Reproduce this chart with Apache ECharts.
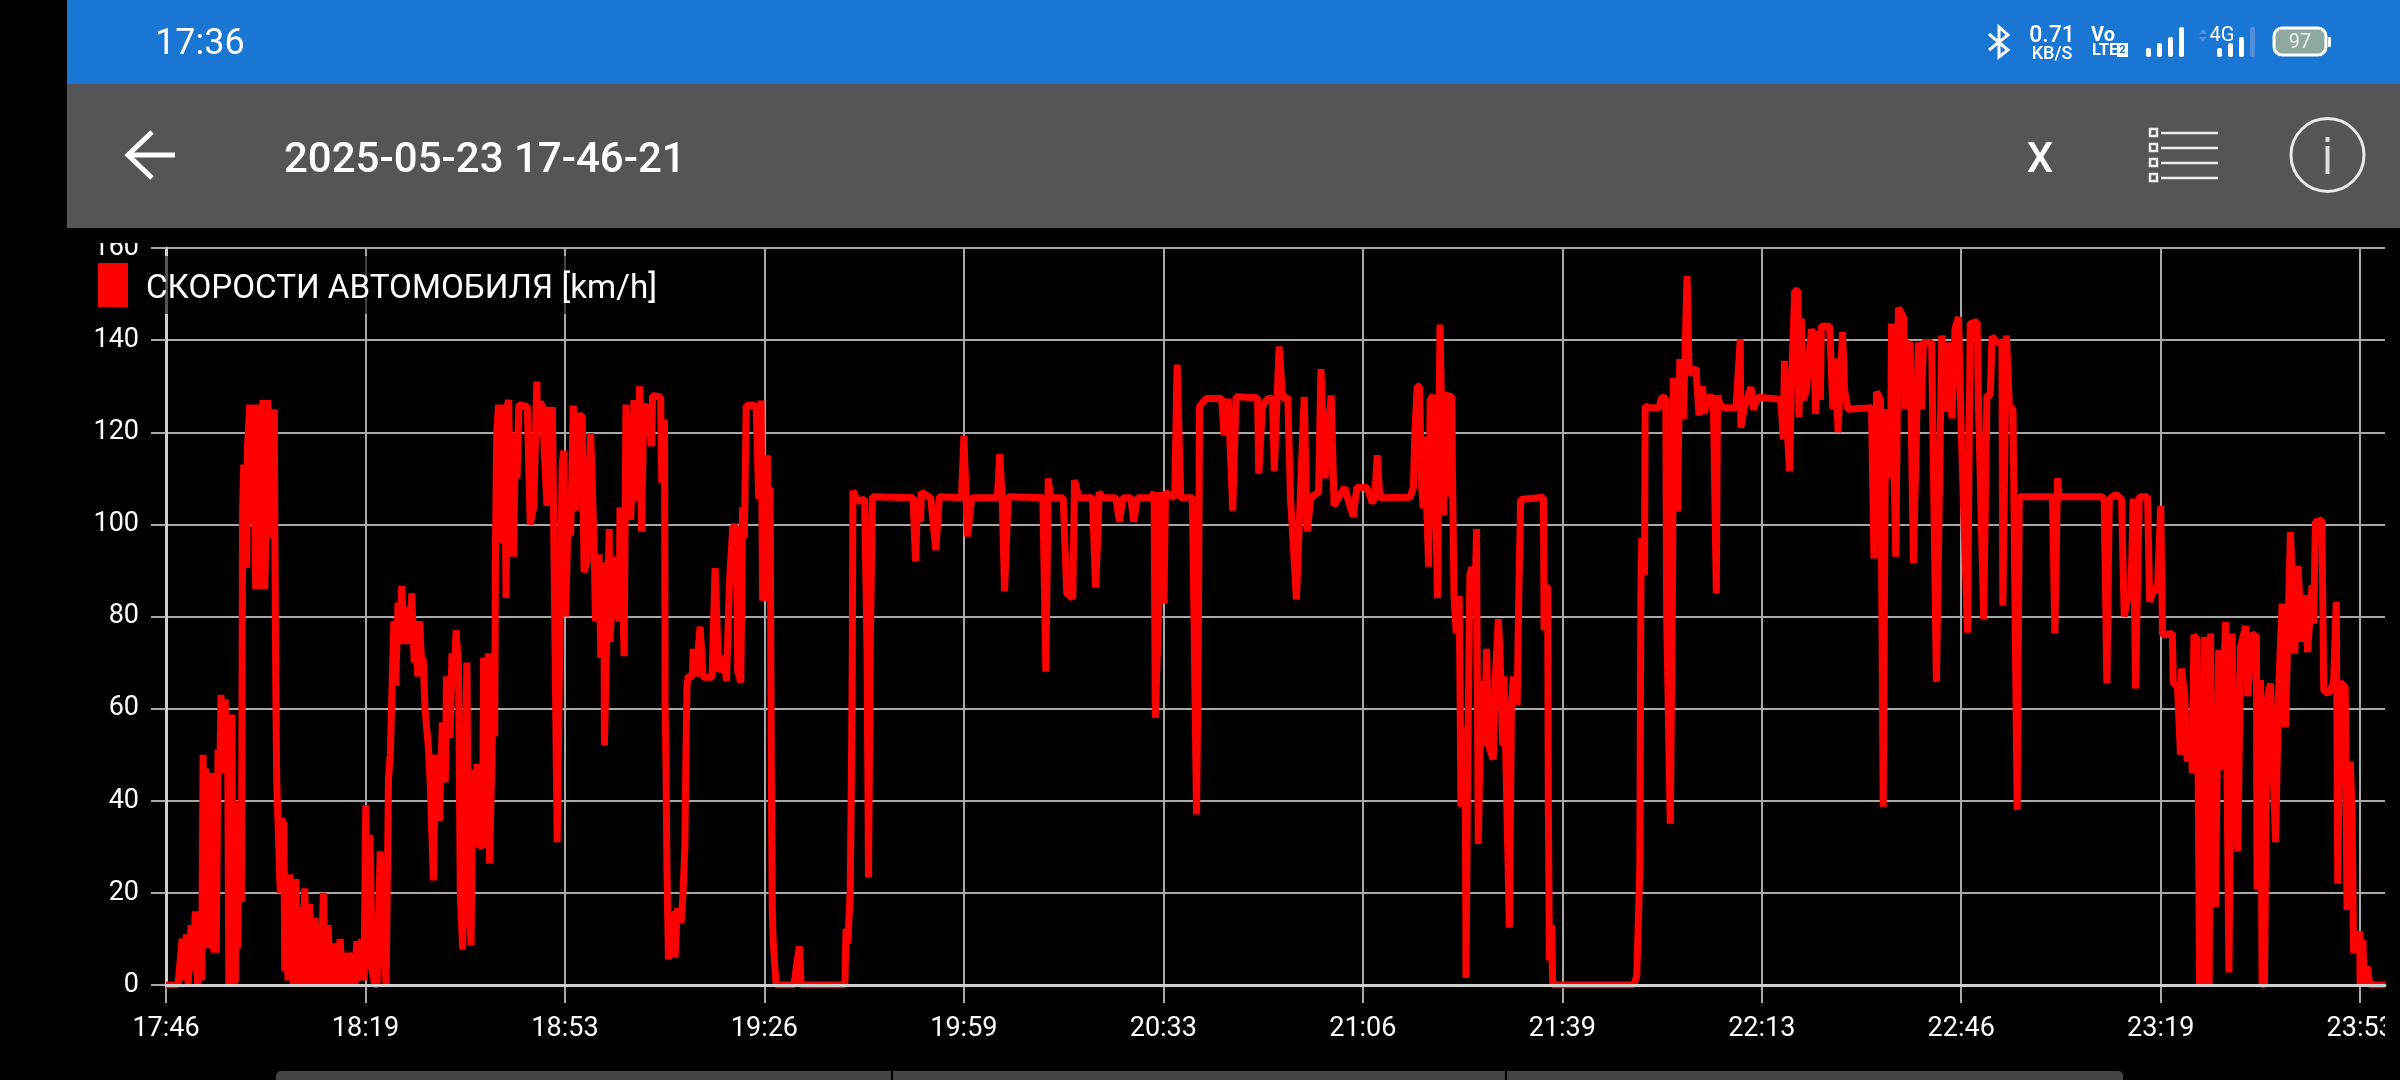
<!DOCTYPE html>
<html><head><meta charset="utf-8">
<style>html,body{margin:0;padding:0;background:#000}#c{width:2400px;height:1080px}</style>
<script src="https://cdn.jsdelivr.net/npm/echarts@6/dist/echarts.min.js"></script>
</head><body><div id="c"></div>
<script>
const seriesName = 'СКОРОСТИ АВТОМОБИЛЯ [km/h]';
const tickLabels = ['17:46','18:19','18:53','19:26','19:59','20:33','21:06','21:39','22:13','22:46','23:19','23:53'];
const tickStep = 33.35;
const axisEnd = 371;
const speedTicksMax = 160;
// [minutes since start, km/h]
const leg1 = [[0,0],[2,0],[2.7,10],[3,1],[3.4,11],[3.7,0],[4.2,13],[4.5,3],[4.9,16],[5.3,0],[5.7,16],[5.95,1],[6.2,50],[6.4,8],[6.6,47],[6.8,8],[7,45],[7.2,8],[7.4,46],[7.6,8],[7.8,46],[8,7],[8.2,46],[8.4,7],[8.7,51],[9,47],[9.2,63],[9.5,46],[9.9,62],[10.1,46],[10.3,53],[10.5,0],[11,58.7],[11.3,0],[11.6,1],[11.7,40],[12,8],[12.3,40],[12.6,18],[12.75,80],[12.8,103],[13,113],[13.5,90.5],[13.6,116],[14,126],[14.2,100],[14.6,126],[15,86],[15.4,126],[15.8,86],[16.2,127],[16.5,86],[16.7,97],[17,127],[17.3,97],[17.6,125],[17.9,97],[18.1,125],[18.2,97],[18.35,65],[18.5,45],[18.9,28],[19.1,20],[19.3,36],[19.7,35],[19.85,3],[20.1,24],[20.4,1],[20.7,24],[21,24],[21.25,0],[21.7,23],[22.1,0],[22.6,17],[22.9,0],[23.2,21],[23.6,0],[24,17.6],[24.4,0],[24.9,14.6],[25.2,0],[25.6,13],[25.9,0],[26.3,20],[26.7,0],[27.1,13],[27.5,0],[28,9],[28.5,0],[29.1,10],[29.6,0],[30.2,7],[30.7,0],[31.3,7],[31.6,0],[31.9,9.5],[32.3,1],[32.7,10],[33.1,1],[33.4,39],[33.8,3.4],[34.1,32.6],[34.5,3],[34.9,0],[35.3,0],[35.8,29],[36.3,12],[36.8,0],[37.1,0],[37.2,45],[37.5,50],[37.8,65],[38.1,79],[38.4,65],[38.8,83],[39.1,74],[39.4,86.6],[39.9,74],[40.2,82],[40.6,74],[41.1,85],[41.5,70],[41.7,79],[42.1,67],[42.4,79],[42.8,68],[43,71],[43.3,60],[43.9,51],[44.2,43],[44.7,22.7],[45.1,50],[45.7,35.6],[46.2,57],[46.7,44],[46.9,67],[47.5,53.6],[47.8,72],[48.1,65],[48.5,77],[48.9,69],[49.2,20],[49.6,7.7],[50.3,70],[50.6,20],[51,8.6],[51.3,46.7],[51.7,30],[52,48],[52.3,30.4],[52.9,30],[53.1,71],[53.3,35],[53.9,72],[54.1,26.4],[54.8,68.6],[54.95,54],[55.1,97],[55.3,120],[55.6,126],[55.85,96],[56.1,126],[56.35,98],[56.6,126],[56.85,84],[57.1,126],[57.3,127],[57.6,93],[57.9,120],[58.1,93],[58.4,116],[58.7,110],[59,126],[60.4,125.6],[60.9,100],[61.5,104],[62,131]];
const leg2 = [[62.1,121],[62.3,120],[62.6,126.7],[62.9,125.4],[63.7,104],[64,125.5],[64.3,104],[64.6,125.5],[64.9,125.5],[65.4,31],[65.8,70],[66.25,113.4],[66.5,116],[66.8,80],[67.3,105],[67.65,97.5],[68.1,125.8],[68.5,103],[69,123.6],[69.6,123.6],[69.9,89.6],[70.4,92],[71,119.8],[71.3,119.8],[71.6,94],[71.8,79],[72.4,93.5],[72.7,71],[73.2,91.8],[73.3,52],[74.1,99],[74.2,74.5],[75.1,93],[75.2,82.5],[75.75,79],[75.9,103.7],[76.6,71.4],[76.9,126],[77.7,101],[78.25,127],[78.4,105],[79.2,130],[79.5,98.4],[79.9,125.8],[80.5,125.4],[81.2,117],[81.35,128],[82.7,127.6],[82.9,109],[83.35,122.7],[83.45,60],[83.6,47],[83.75,25],[84,5.6],[84.7,16],[85.1,6],[85.5,16.6],[86.1,13.5],[86.4,18.8],[86.75,30],[86.9,47],[87.1,65],[87.3,67],[88,67],[88.15,73],[88.6,67],[89.3,77.8],[89.8,66.8],[91.3,66.8],[91.8,90.5],[92.4,68],[93.35,71.4],[93.7,66],[94.2,87],[94.75,99.5],[95.3,99.5],[95.6,68],[96.1,65.7],[96.4,103.7],[96.7,97],[97,125.8],[98.65,125.8],[99.1,105.5],[99.5,126.9],[99.75,83.4],[100.55,115],[100.6,83.4],[101,108],[101.2,47],[101.35,17],[101.5,10],[101.7,10],[102,0],[105,0],[105.5,5],[105.9,8.4],[106.2,0],[113.5,0],[113.7,12.2],[114,9],[114.4,20.6],[114.6,47],[114.75,73.6],[114.85,107.3],[115.7,105],[116.8,105.5],[117.2,73.6],[117.45,23.4],[117.75,73.6],[118.1,106]];
const leg3 = [[124.9,105.8],[125.3,92],[125.7,105.8],[126.15,100.6],[126.3,107],[127.85,105.8],[128.7,94.4],[129.3,106],[133,105.8],[133.4,119.2],[134,97.4],[134.7,105.8],[139,105.8],[139.4,115.3],[139.8,105.5],[140.2,85.5],[140.8,106],[146.6,105.8],[147.1,68],[147.5,110],[147.9,105.8],[150,105.8],[150.6,85],[151.6,84],[151.9,109.6],[152.6,105.8],[154.9,105.8],[155.4,86.3],[155.75,96],[156,107],[156.6,105.8],[158.8,105.8],[159.4,100.6],[160,105.8],[161.3,105.8],[161.8,100.6],[162.4,105.8],[164.8,105.8],[165.2,107],[165.4,58],[166,82.6],[166.4,107],[166.85,82.8],[167.1,107],[168.65,105.8],[169.05,134.7],[169.65,105.8],[171.6,105.8],[172.3,37],[172.6,75],[172.8,125.6],[173.9,127.3],[176.5,127.3],[176.9,119.4],[177.6,127.3],[178.35,103],[178.9,127.7],[182.5,127.5],[182.7,111],[183.3,125.6],[184.2,127.3],[185,127.3],[185.3,111.6],[186.1,138.6],[186.7,127.3],[187.55,127.7],[188,105.8],[189,83.7],[189.7,108],[190.3,127.7],[190.8,98.5],[191.4,105.8],[192.7,107],[193.1,133.7],[193.8,110],[194.8,128],[195.3,104],[196.1,106],[197.1,108],[197.6,105.5],[198.5,101.7],[199.1,108],[200.8,108],[201.7,104.6],[202.1,105.8],[202.5,115],[202.95,105.8]];
const leg4 = [[208,105.9],[208.55,108],[208.8,120],[209.2,130],[209.55,130],[209.95,108],[210.2,103.5],[210.4,119],[211.1,90.8],[211.35,127],[211.9,128],[212.2,110],[212.6,84],[213,143.4],[213.6,102],[213.85,128.8],[214.1,106],[214.4,127.8],[214.95,127.8],[215.1,110],[215.35,84.5],[215.7,76.4],[216.2,84.5],[216.35,64.4],[216.5,38.7],[217.2,55.9],[217.35,1.5],[217.6,43],[218,89],[218.3,90.7],[218.85,81.6],[219.1,99],[219.3,98.8],[219.4,30.6],[219.7,52],[220.25,66],[220.4,52],[220.8,73],[221.1,52],[221.9,49],[222.2,65],[222.75,79.4],[223,73],[223.5,52],[223.7,67],[224,50],[224.6,12.5],[224.95,60.6],[225.25,67],[225.9,60.8],[226.2,87],[226.5,105.4],[230.3,105.9],[230.4,77],[230.55,86.4],[231,86.4],[231.1,41.6],[231.3,5.3],[231.65,13],[231.85,0],[245.4,0],[245.9,2]];
const leg5 = [[246.4,25],[246.6,88],[246.75,97],[247.2,89],[247.3,125.7],[248,125.3],[249.6,125.3],[250.1,127.6],[250.75,127.4],[250.9,80],[251.5,35],[251.9,90],[252,131.8],[252.7,102.8],[253.1,135.9],[253.7,122.9],[254.3,153.9],[254.65,132.8],[255.2,133],[255.8,134],[256.3,123.7],[256.9,130],[257.2,124],[257.8,127.6],[258.7,127.6],[259.2,85],[259.4,128],[259.8,126],[260.5,125.3],[262.5,125.3],[263.2,140.2],[263.3,121],[263.9,125.5],[265,129.8],[265.4,124.9],[266.1,127.6],[269.5,127.2],[270,127],[270.4,118.6],[270.6,135.5],[270.85,125],[271.45,111.6],[271.7,127],[272.3,150.7],[272.85,150.7],[273,123.3],[273.4,144.7],[273.7,127],[274.25,129],[275.1,142.4],[275.5,140],[275.8,124],[276.2,142],[276.6,127],[276.75,143],[278.15,143],[278.7,125],[279.15,136],[279.55,120],[280.3,141.8],[280.65,129],[281.2,125],[281.5,125.3],[285.15,125.3],[285.55,92.6],[286,128.8],[286.65,127],[287.1,38.7],[287.5,125],[287.8,110],[288.1,125],[288.3,110],[288.5,143.6],[289.2,93],[289.65,147],[290.5,145],[290.75,125],[291,139],[291.6,139.5],[292.15,91.6],[293,139.5],[293.5,125],[293.8,139.5],[295.2,139.5],[296,65.8],[296.9,141],[297.45,124.5],[298,139.5],[298.6,123],[299.1,142.4],[299.7,145],[300.15,120],[301.2,76.5],[301.65,143.6],[302.8,144],[303.05,125],[303.9,79.4],[304.45,128],[305,128],[305.3,140.8],[306.1,139.5],[306.95,139.5],[307.1,82.4],[307.7,141],[308.2,125.6],[308.8,125]];
const leg6 = [[309.5,38],[309.85,106],[315.4,106],[315.8,76.3],[316.25,110],[316.5,106],[323.8,106],[324.05,105],[324.5,65.5],[324.9,105.5],[326,106.5],[326.95,105.5],[327.4,80],[327.95,84],[328.5,84],[328.9,105.6],[329.3,64.4],[329.9,106],[331.3,106],[331.65,83.2],[332.4,86.4],[332.95,85.5],[333.5,104],[333.8,76],[335.45,76.3],[335.6,65.5],[336.3,65],[336.8,50],[336.95,68.7],[337.5,63],[337.95,48.5],[338.4,56.4],[338.8,46],[339.05,76],[339.6,75],[340,0],[340.3,60],[340.6,0],[340.85,75.6],[341.1,0],[341.4,60],[341.6,0],[341.85,76.3],[342,20],[342.65,17],[343.2,72.7],[343.5,46.7],[344.35,78.8],[344.9,2.7],[345.45,76.3],[345.7,54.6],[346.4,29],[346.85,73.4],[347.7,77.9],[348.05,62.7],[348.8,76.3],[349.5,75.6],[349.6,20.7],[350.2,66.2],[350.45,0],[350.85,0],[351.3,61.8],[351.85,65.5],[352.7,31],[353.25,65.5],[353.8,82.8],[354.35,56],[355.2,98.3],[355.9,72],[356.45,91],[357.1,74.5],[357.5,84.6],[358.05,72.3],[358.8,86.8],[359.1,78.5],[359.35,100.5],[360.45,101],[360.75,64],[361.6,63.3],[362.4,65.5],[362.85,83.2],[363.1,22],[363.5,65.8],[364.35,64.7],[364.65,16.3],[365.2,48.5],[365.5,37],[365.75,7],[366.75,11.6],[366.85,0],[367.3,9.8],[367.5,0],[368,4],[368.5,0],[371,0]];
const trace = leg1.concat(leg2, leg3, leg4, leg5, leg6);
const tickValues = tickLabels.map((_, i) => +(i * tickStep).toFixed(2));

const W = '#fff';
const rect = (x, y, w, h, fill, extra) => Object.assign({type:'rect', silent:true, shape:{x, y, width:w, height:h, r:(extra&&extra.r)||0}, style:{fill}}, extra&&extra.z?{z:extra.z}:{});
const txt = (x, y, text, size, weight, fill, align) => ({type:'text', silent:true, x, y, style:{text, fill:fill||W, font:`${weight||400} ${size}px Roboto`, textAlign:align||'center', textVerticalAlign:'middle'}});
const poly = (points, lw, color) => ({type:'polyline', silent:true, shape:{points}, style:{stroke:color||W, lineWidth:lw, fill:null, lineJoin:'miter'}});

const decor = [
  rect(67,0,2333,84,'#1976d2'), rect(67,84,2333,144,'#555555'),
  txt(155,45,'17:36',36,400,W,'left'),
  txt(284,161,'2025-05-23 17-46-21',42,500,W,'left'),
  poly([[152,132],[128,155],[152,178]],5), poly([[129,155],[175,155]],5),
  poly([[1989,34],[2008,50],[1999,57],[1999,27],[2008,35],[1989,50]],3),
  txt(2052,36,'0.71',23,500), txt(2052,54,'KB/S',18,500),
  txt(2103,36,'Vo',20,700), txt(2105,51,'LTE',16,700),
  rect(2117,43,11,14,W), txt(2122.5,50.5,'2',11,700,'#1976d2'),
  rect(2146,48,5,9,W,{r:2}), rect(2157,43,5,14,W,{r:2}), rect(2168,37,5,20,W,{r:2}), rect(2179,27,5,30,W,{r:2}),
  {type:'polygon',silent:true,shape:{points:[[2199,34],[2203,29],[2207,34]]},style:{fill:'#4f8fdc'}},
  {type:'polygon',silent:true,shape:{points:[[2199,37],[2203,42],[2207,37]]},style:{fill:'#4f8fdc'}},
  txt(2222,36,'4G',20,400),
  rect(2217,48,5,9,W,{r:2}), rect(2228,43,5,14,W,{r:2}), rect(2239,37,5,20,W,{r:2}), rect(2250,27,5,30,'#4f8fdc',{r:2}),
  {type:'rect',silent:true,shape:{x:2274,y:28,width:52,height:27,r:8},style:{fill:'#8fa89f',stroke:W,lineWidth:3}},
  rect(2328,37,3,10,W,{r:1}), txt(2300,43,'97',20,400,'#eeeeee'),
  txt(2040,161,'X',42,500),
  ...[133,148,163,178].flatMap(y => [
    {type:'rect',silent:true,shape:{x:2150,y:y-4,width:7,height:7},style:{fill:'#555',stroke:'#eee',lineWidth:2.5}},
    poly([[2161,y],[2218,y]],2.5,'#eeeeee')
  ]),
  {type:'circle',silent:true,shape:{cx:2327.5,cy:155,r:36.5},style:{fill:null,stroke:'#e8e8e8',lineWidth:3}},
  rect(2325.5,137,4,5,'#ddd'), rect(2325.5,146,4,28,'#ddd'),
  rect(276,1071,615,9,'#444',{r:[5,0,0,0]}), rect(893,1071,612,9,'#444'), rect(1507,1071,616,9,'#444',{r:[0,5,0,0]}),
  rect(80,228,80,15,'#000'),
  rect(2385,990,15,70,'#000')
];

const chart = echarts.init(document.getElementById('c'), null, {renderer:'canvas'});
chart.setOption({
  animation:false, backgroundColor:'#000',
  grid:{left:166, right:15, top:248, bottom:95, containLabel:false},
  graphic:{elements:decor.map(e => Object.assign({z:50}, e))},
  legend:{left:88, top:256, padding:[7,10,7,10], itemWidth:30, itemHeight:44, itemGap:0, icon:'rect', selectedMode:false,
    backgroundColor:'rgba(0,0,0,0.6)', data:[seriesName],
    formatter:(name)=>'{a|'+name+'}',
    textStyle:{color:'#fff', padding:[0,0,0,13],
      rich:{a:{color:'#fff', fontFamily:'Roboto', fontSize:33.2, lineHeight:30, padding:[9,0,0,0]}}}},
  xAxis:[
   {type:'value', min:0, max:axisEnd, interval:tickStep,
    axisLine:{show:false},
    axisTick:{show:true, length:18, customValues:tickValues, lineStyle:{color:'#a8a8a8',width:2}},
    axisLabel:{color:'#fff', fontFamily:'Roboto', fontSize:27, margin:31, customValues:tickValues, hideOverlap:false,
      formatter:(v)=>tickLabels[Math.round(v/tickStep)]||''},
    splitLine:{show:true, lineStyle:{color:'#a8a8a8',width:2}}},
   {type:'value', min:0, max:axisEnd, position:'bottom', z:5,
    axisLine:{show:true, onZero:false, lineStyle:{color:'#cfcfcf',width:3}},
    axisTick:{show:false}, axisLabel:{show:false}, splitLine:{show:false}}
  ],
  yAxis:{type:'value', min:0, max:speedTicksMax, interval:20,
    axisLine:{show:true, lineStyle:{color:'#cfcfcf',width:3}},
    axisTick:{show:true, length:15, lineStyle:{color:'#a8a8a8',width:2}},
    axisLabel:{color:'#fff', fontFamily:'Roboto', fontSize:27, margin:27, padding:[3,0,0,0]},
    splitLine:{show:true, lineStyle:{color:'#a8a8a8',width:2}}},
  series:[{name:seriesName, type:'line', data:trace, showSymbol:false, symbol:'none', smooth:false,
    itemStyle:{color:'#ff0000'},
    lineStyle:{color:'#ff0000', width:7, join:'bevel', cap:'butt'}, clip:true}]
});
</script></body></html>
